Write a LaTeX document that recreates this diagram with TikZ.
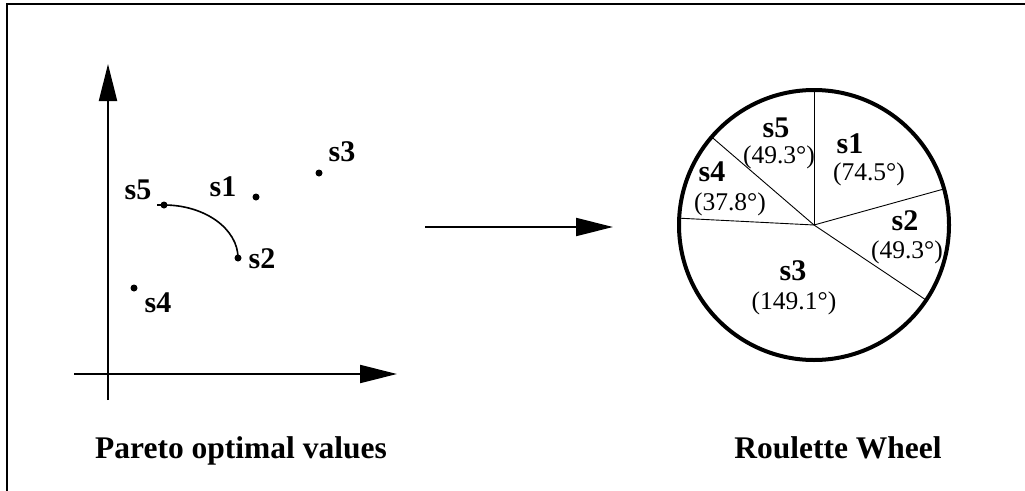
\documentclass[tikz,border=0pt]{standalone}
\usepackage{fontspec}
\setmainfont{Liberation Serif}
\usetikzlibrary{arrows.meta}
\tikzset{
  x=1pt, y=-1pt,
  frameline/.style={line width=2.5pt},
  axis/.style={line width=2pt, -{Triangle[length=37pt,width=18pt]}},
  dot/.style={circle, fill=black, inner sep=0pt, minimum size=7pt},
  slabel/.style={inner sep=0pt, font=\fontsize{30}{32}\selectfont\bfseries},
  alabel/.style={inner sep=0pt, font=\fontsize{25.5}{27}\selectfont},
  caption/.style={inner sep=0pt, font=\fontsize{31.5}{34}\selectfont\bfseries},
  wheel/.style={circle, draw, line width=4pt, minimum size=270pt, inner sep=0pt},
  spoke/.style={line width=0.9pt},
}
\begin{document}
\begin{tikzpicture}
\useasboundingbox (0,0) rectangle (1025,490);
% frame
\draw[frameline] (1026,4) -- (7,4) -- (7,491);

% axes
\coordinate (ybot) at (108,400);
\coordinate (ytop) at (108,64);
\coordinate (xleft) at (74,374);
\coordinate (xright) at (397,374);
\draw[axis] (ybot) -- (ytop);
\draw[axis] (xleft) -- (xright);

% points
\node[dot] (p1) at (256,197) {};
\node[dot] (p2) at (238,258) {};
\node[dot] (p3) at (319,173) {};
\node[dot] (p4) at (134,288) {};
\node[dot] (p5) at (164,205) {};
\coordinate (stub) at (157,205);
\draw[line width=1.6pt] (stub) -- (p5.center) .. controls (205,205) and (238,229) .. (p2.center);

\node[slabel] (l1) at (223,187) {s1};
\node[slabel] (l2) at (262,259) {s2};
\node[slabel] (l3) at (342,152) {s3};
\node[slabel] (l4) at (158,303) {s4};
\node[slabel] (l5) at (138,190) {s5};

% middle arrow
\coordinate (ma) at (425,227);
\coordinate (mb) at (613,227);
\draw[axis] (ma) -- (mb);

% wheel (y axis points down, so angles are negated)
\coordinate (c) at (814,225);
\draw[spoke] (c) -- ++(-90:135);
\draw[spoke] (c) -- ++(-15.5:135);
\draw[spoke] (c) -- ++(33.8:135);
\draw[spoke] (c) -- ++(-177.1:135);
\draw[spoke] (c) -- ++(-139.3:135);
\node[wheel] (w) at (c) {};

\node[slabel] (w1) at (850,144) {s1};
\node[alabel] (a1) at (869,174) {(74.5°)};
\node[slabel] (w2) at (905,221) {s2};
\node[alabel] (a2) at (907,252) {(49.3°)};
\node[slabel] (w3) at (793,271) {s3};
\node[alabel] (a3) at (794,303) {(149.1°)};
\node[slabel] (w4) at (712,172) {s4};
\node[alabel] (a4) at (730,204) {(37.8°)};
\node[slabel] (w5) at (776,128) {s5};
\node[alabel] (a5) at (779,157) {(49.3°)};

% captions
\node[caption, anchor=base] (cap1) at (241,458) {Pareto optimal values};
\node[caption, anchor=base] (cap2) at (838,458) {Roulette Wheel};
\end{tikzpicture}
\end{document}
